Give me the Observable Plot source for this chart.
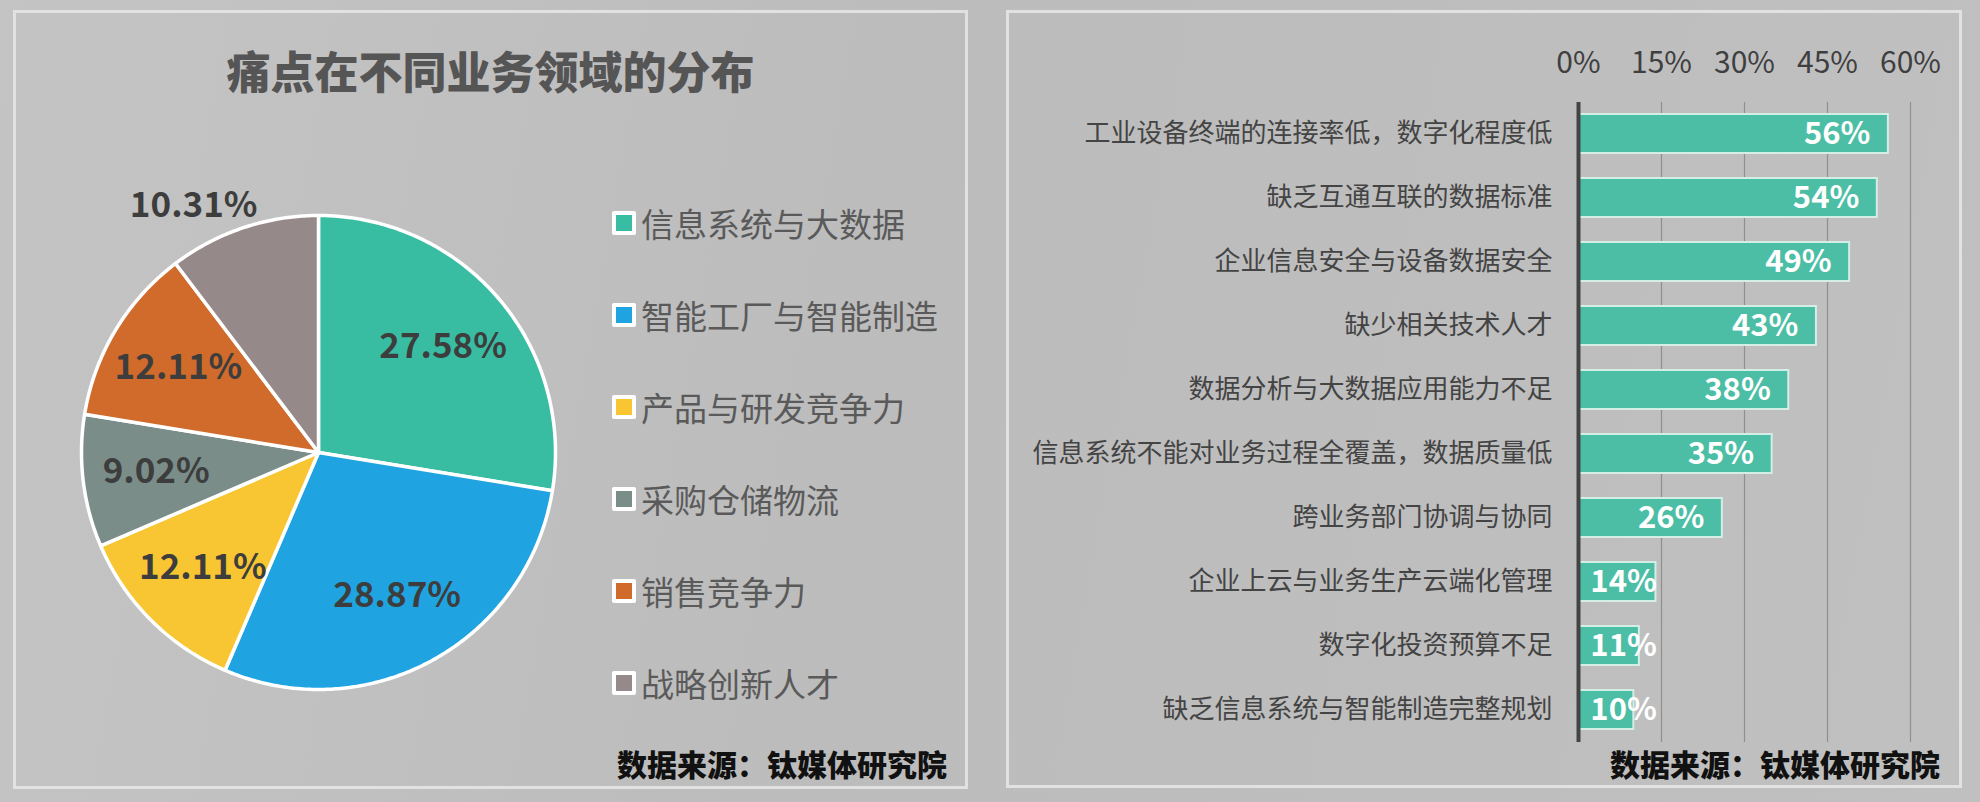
<!DOCTYPE html>
<html>
<head>
<meta charset="utf-8">
<script src="https://cdn.jsdelivr.net/npm/d3@7"></script>
<script src="https://cdn.jsdelivr.net/npm/@observablehq/plot@0.6"></script>
<style>
  html, body { margin: 0; padding: 0; }
  body {
    width: 1980px; height: 802px; position: relative; overflow: hidden;
    background: linear-gradient(100deg, #c4c4c4 0%, #bcbcbc 45%, #c0c0c0 100%);
    font-family: "Noto Sans CJK SC", "Noto Sans", sans-serif;
  }
  .panel { position: absolute; box-sizing: border-box; border: 3px solid rgba(232,232,232,0.85); }
  .abs { position: absolute; white-space: nowrap; }
  .title { font-size: 44px; font-weight: 900; color: #555555; }
  .source { font-size: 30px; font-weight: 900; color: #111111; }
  .legend-item { position: absolute; display: flex; align-items: center; font-size: 33px; color: #5a5a5a; white-space: nowrap; }
  .legend-swatch { width: 16px; height: 16px; border: 4px solid #ffffff; border-radius: 2px; margin-right: 5px; }
  svg { font-family: "Noto Sans CJK SC", "Noto Sans", sans-serif; }
</style>
</head>
<body>
<div class="panel" style="left:13px; top:10px; width:955px; height:779px;"></div>
<div class="panel" style="left:1006px; top:10px; width:956px; height:778px;"></div>
<div id="title" class="abs title" style="left:13px; width:955px; top:42px; text-align:center; line-height:56px;"></div>
<div id="pie" class="abs" style="left:38px; top:152px;"></div>
<div id="legend"></div>
<div id="bars" class="abs" style="left:1010px; top:20px;"></div>
<div id="src1" class="abs source" style="right:1033px; top:741px; line-height:44px;"></div>
<div id="src2" class="abs source" style="right:40px; top:741px; line-height:44px;"></div>
<script>
// ---------- data ----------
const titleText = "痛点在不同业务领域的分布";
const sourceText = "数据来源：钛媒体研究院";

const pieCategories = ["信息系统与大数据", "智能工厂与智能制造", "产品与研发竞争力", "采购仓储物流", "销售竞争力", "战略创新人才"];
const pieValues = [27.58, 28.87, 12.11, 9.02, 12.11, 10.31];
const pieColors = ["#38bda3", "#1fa4e1", "#f8c632", "#7a8d88", "#d06b2b", "#958a89"];

const barCategories = [
  "工业设备终端的连接率低，数字化程度低",
  "缺乏互通互联的数据标准",
  "企业信息安全与设备数据安全",
  "缺少相关技术人才",
  "数据分析与大数据应用能力不足",
  "信息系统不能对业务过程全覆盖，数据质量低",
  "跨业务部门协调与协同",
  "企业上云与业务生产云端化管理",
  "数字化投资预算不足",
  "缺乏信息系统与智能制造完整规划"
];
const barValues = [56, 54, 49, 43, 38, 35, 26, 14, 11, 10];
const xTicks = [0, 15, 30, 45, 60];

// ---------- texts ----------
document.getElementById("title").textContent = titleText;
document.getElementById("src1").textContent = sourceText;
document.getElementById("src2").textContent = sourceText;

// ---------- pie ----------
const R = 237, PW = 560, PH = 600;
const pieData = pieCategories.map((c, i) => ({key: c, value: pieValues[i], color: pieColors[i]}));
const arcs = d3.pie().sort(null).value(d => d.value)(pieData);
const polyPts = [];
arcs.forEach(a => {
  polyPts.push({key: a.data.key, color: a.data.color, x: 0, y: 0});
  const n = Math.max(8, Math.ceil((a.endAngle - a.startAngle) / 0.01));
  for (let k = 0; k <= n; k++) {
    const t = a.startAngle + (a.endAngle - a.startAngle) * k / n;
    polyPts.push({key: a.data.key, color: a.data.color, x: Math.sin(t), y: Math.cos(t)});
  }
});
const outsideLabels = new Set(["战略创新人才"]);
const labels = arcs.map(a => {
  const mid = (a.startAngle + a.endAngle) / 2;
  const out = outsideLabels.has(a.data.key);
  const rr = out ? 1.1 : 0.69;
  return {x: rr * Math.sin(mid), y: rr * Math.cos(mid), text: a.data.value.toFixed(2) + "%", out};
});
const pie = Plot.plot({
  width: PW, height: PH,
  margin: 0,
  x: {domain: [-PW / 2 / R, PW / 2 / R], axis: null},
  y: {domain: [-PH / 2 / R, PH / 2 / R], axis: null},
  color: {type: "identity"},
  style: {background: "transparent", overflow: "visible"},
  marks: [
    Plot.line(polyPts, {x: "x", y: "y", z: "key", fill: "color", stroke: "#ffffff", strokeWidth: 3.5, strokeLinejoin: "round", curve: "linear-closed"}),
    Plot.text(labels.filter(d => !d.out), {x: "x", y: "y", text: "text", fontSize: 35, fontWeight: 700, fill: "#3d3d3d"}),
    Plot.text(labels.filter(d => d.out), {x: "x", y: "y", text: "text", fontSize: 35, fontWeight: 700, fill: "#3d3d3d", textAnchor: "end", dx: 22})
  ]
});
document.getElementById("pie").appendChild(pie);

// ---------- legend ----------
const legend = document.getElementById("legend");
pieCategories.forEach((c, i) => {
  const item = document.createElement("div");
  item.className = "legend-item";
  item.style.left = "612px";
  item.style.top = (201 + i * 92) + "px";
  item.style.height = "44px";
  const sw = document.createElement("span");
  sw.className = "legend-swatch";
  sw.style.background = pieColors[i];
  const tx = document.createElement("span");
  tx.textContent = c;
  item.appendChild(sw);
  item.appendChild(tx);
  legend.appendChild(item);
});

// ---------- bars ----------
const barData = barCategories.map((c, i) => ({cat: c, v: barValues[i]}));
const minLabelPct = 17.4;
const bars = Plot.plot({
  width: 950, height: 760,
  marginLeft: 568, marginRight: 50, marginTop: 82, marginBottom: 38,
  style: {background: "transparent", overflow: "visible"},
  x: {domain: [0, 60], axis: null, label: null},
  y: {domain: barCategories, paddingInner: 0.39, paddingOuter: 0.185, axis: null, label: null},
  marks: [
    Plot.gridX(xTicks.filter(t => t > 0), {stroke: "#8f8f8f", strokeOpacity: 1, strokeWidth: 1.2}),
    Plot.barX(barData, {y: "cat", x: "v", fill: "#4cbea5", stroke: "#d4eee7", strokeWidth: 2}),
    Plot.ruleX([0], {stroke: "#444444", strokeWidth: 4}),
    Plot.axisX(xTicks, {anchor: "top", label: null, tickSize: 0, tickPadding: 30, tickFormat: d => d + "%", fontSize: 30, fill: "#3f3f3f"}),
    Plot.axisY({anchor: "left", label: null, tickSize: 0, tickPadding: 26, fontSize: 26, fill: "#444444"}),
    Plot.text(barData, {y: "cat", x: d => Math.max(d.v, minLabelPct), text: d => d.v + "%", textAnchor: "end", dx: -18, fill: "#ffffff", fontSize: 31, fontWeight: 700})
  ]
});
document.getElementById("bars").appendChild(bars);
</script>
</body>
</html>
